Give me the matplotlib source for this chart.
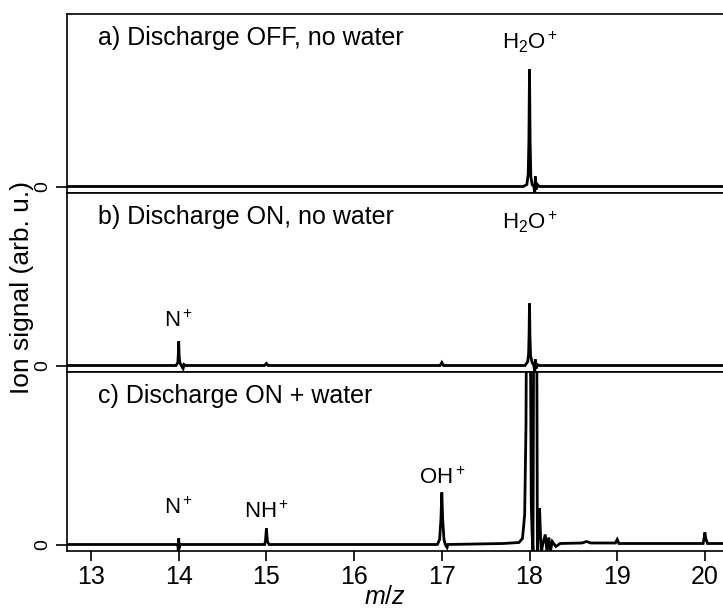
import matplotlib
matplotlib.use("Agg")
import matplotlib.pyplot as plt

plt.rcParams['font.family'] = ['Liberation Sans', 'DejaVu Sans']
plt.rcParams['mathtext.fontset'] = 'custom'
plt.rcParams['mathtext.rm'] = 'Liberation Sans'
plt.rcParams['mathtext.it'] = 'Liberation Sans:italic'

# Trace vertices (m/z, signal in arbitrary units)
a_mz = [12.7, 17.93, 17.97, 17.985, 17.993, 18.0, 18.007, 18.015, 18.03, 18.05,
        18.06, 18.067, 18.075, 18.09, 18.11, 20.3]
a_sig = [0, 0, 2, 12, 45, 117, 45, 10, 2, 0, -7, 10, -3, 2, 0, 0]

b_mz = [12.7, 13.97, 13.99, 13.995, 14.0, 14.005, 14.012, 14.03, 14.05, 14.06, 14.08,
        14.98, 15.0, 15.02, 16.98, 17.0, 17.02, 17.95, 17.98, 17.99, 17.995, 18.0,
        18.005, 18.012, 18.03, 18.05, 18.06, 18.067, 18.075, 18.09, 18.11, 20.3]
b_sig = [0, 0, 3, 10, 24, 10, 3, 0, -3, 1, 0,
         0, 2, 0, 0, 3, 0, 0, 4, 12, 30, 62,
         30, 10, 3, 0, -8, 6, -3, 1, 0, 0]

c_mz = [12.7, 13.99, 13.995, 14.0, 14.005, 14.01, 14.98, 14.99, 14.995, 15.0, 15.005,
        15.012, 15.03, 16.95, 16.975, 16.99, 17.0, 17.01, 17.025, 17.04, 17.06, 17.07,
        17.7, 17.88, 17.92, 17.945, 17.96, 17.975, 17.99, 18.005, 18.02, 18.03, 18.04,
        18.05, 18.065, 18.08, 18.09, 18.1, 18.115, 18.125, 18.135, 18.15, 18.18, 18.2,
        18.22, 18.24, 18.26, 18.3, 18.35, 18.6, 18.65, 18.7, 18.98, 19.0, 19.02, 19.98,
        19.99, 20.0, 20.01, 20.03, 20.3]
c_sig = [0, 0, -6, 6, -4, 0, 0, 4, 10, 16, 10,
         3, 0, 0, 5, 25, 52, 25, 5, 0, -3, 0,
         1, 2, 6, 30, 120, 400, 400, 300, 41, 10, -7,
         300, 400, 300, -8, 20, 36, 10, -8, 0, 10, -8,
         7, -6, 3, -2, 1, 1.5, 3, 1.5, 1.5, 5, 1, 1,
         6, 12, 6, 1, 1]

panel_titles = ["a) Discharge OFF, no water", "b) Discharge ON, no water", "c) Discharge ON + water"]
xticks = [13, 14, 15, 16, 17, 18, 19, 20]

# peak annotations: (panel, m/z, label, baseline height)
ann_panel = [0, 1, 1, 2, 2, 2]
ann_mz = [18.0, 18.0, 14.0, 14.0, 15.0, 17.0]
ann_text = [r'H$_2$O$^+$', r'H$_2$O$^+$', r'N$^+$', r'N$^+$', r'NH$^+$', r'OH$^+$']
ann_y = [137, 136, 38, 31, 27, 61]

W, H = 723, 610
fig = plt.figure(figsize=(W / 100, H / 100), dpi=100)

left = 67 / W
right = 726 / W
bounds = [(14, 193), (193, 372), (372, 551)]
xlim = (13 - (91 - 67) / 87.7, 13 + (726 - 91) / 87.7)
ylim = (-6.5, 172.5)

traces = [(a_mz, a_sig), (b_mz, b_sig), (c_mz, c_sig)]
axes = []
for i, ((top, bot), (xs, ys)) in enumerate(zip(bounds, traces)):
    ax = fig.add_axes([left, 1 - bot / H, right - left, (bot - top) / H])
    ax.plot(xs, ys, color='black', lw=2.0, solid_joinstyle='miter')
    ax.set_xlim(*xlim)
    ax.set_ylim(*ylim)
    ax.set_yticks([0])
    ax.set_yticklabels(['0'], rotation=90, va='center', fontsize=14)
    ax.tick_params(axis='y', direction='out', length=8, width=1.2, pad=3)
    for s in ax.spines.values():
        s.set_linewidth(1.2)
    fig.text(98 / W, 1 - (top + 31) / H, panel_titles[i], fontsize=18,
             va='baseline', ha='left')
    if i < 2:
        ax.set_xticks([])
    else:
        ax.set_xticks(xticks)
        ax.set_xticklabels([str(t) for t in xticks], fontsize=18)
        ax.tick_params(axis='x', direction='out', length=7, width=1.2, pad=3)
    axes.append(ax)

for p, mz, t, y in zip(ann_panel, ann_mz, ann_text, ann_y):
    axes[p].text(mz, y, t, ha='center', va='baseline', fontsize=16)

fig.text(385 / W, 1 - 597 / H, r'$m/z$', fontsize=18, ha='center', va='center')
fig.text(22 / W, 1 - 288 / H, 'Ion signal (arb. u.)', rotation=90, fontsize=19,
         ha='center', va='center')

fig.savefig('out.png', dpi=100)
